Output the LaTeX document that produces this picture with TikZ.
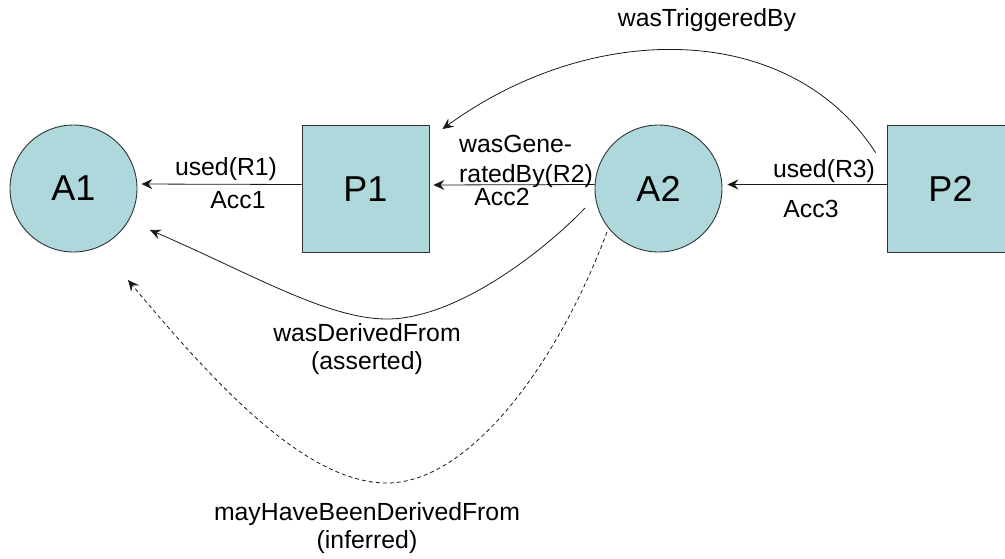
\documentclass[tikz,border=0pt]{standalone}
\usepackage{fontspec}
\setmainfont{Liberation Sans}
\usetikzlibrary{arrows.meta}
\definecolor{entityfill}{RGB}{174,216,220}
\definecolor{outline}{RGB}{50,50,50}
\tikzset{
  entity/.style={draw=outline, line width=0.9pt, fill=entityfill, minimum size=127pt,
    inner sep=0pt, font=\fontsize{36}{40}\selectfont},
  artifact/.style={entity, circle},
  process/.style={entity, rectangle},
  edge/.style={draw=black!90, line width=0.8pt, -{Stealth[length=11pt,width=10pt,inset=4pt]}},
  inferred/.style={edge, dash pattern=on 4pt off 3pt},
  lbl/.style={font=\fontsize{24.8}{28}\selectfont, inner sep=0pt},
}
\begin{document}
\begin{tikzpicture}[x=1pt, y=-1pt]
  \useasboundingbox (0,0) rectangle (1005,558);
  \clip (0,0) rectangle (1005,558);

  % artifacts and processes
  \node[artifact] (A1) at (73.5,188.5) {A1};
  \node[process]  (P1) at (365.5,189) {P1};
  \node[artifact] (A2) at (658.5,188.5) {A2};
  \node[process]  (P2) at (950.5,188.5) {P2};

  % free ends of the curved dependencies
  \coordinate (trigStart) at ([shift={(-11,28)}]P2.north west);
  \coordinate (trigEnd)   at ([shift={(13,4)}]P1.north east);
  \coordinate (derStart)  at ([shift={(-73.5,19.5)}]A2.center);
  \coordinate (derEnd)    at ([shift={(76.5,41.5)}]A1.center);
  \coordinate (infStart)  at ([shift={(-51.5,43.5)}]A2.center);
  \coordinate (infEnd)    at ([shift={(54.5,91.5)}]A1.center);

  % straight dependencies
  \draw[edge, shorten >=4pt] ([yshift=4.5pt]P1.west) -- ([yshift=4.5pt]A1.east);
  \draw[edge, shorten >=4pt] ([yshift=4pt]A2.west) -- ([yshift=4pt]P1.east);
  \draw[edge, shorten >=5pt] ([yshift=4pt]P2.west) -- ([yshift=4pt]A2.east);

  % curved dependencies
  \draw[edge] (trigStart) .. controls (790,20) and (592,20) .. (trigEnd);
  \draw[edge] (derStart) .. controls (545,250) and (457,319) .. (387,319)
                         .. controls (327,319) and (250,273) .. (derEnd);
  \draw[inferred] (infStart) .. controls (555,370) and (467,483) .. (387,483)
                             .. controls (307,483) and (218,388) .. (infEnd);

  % labels
  \node[lbl, anchor=base] (l1) at (226,175) {used(R1)};
  \node[lbl, anchor=base] (l1b) at (238,208) {Acc1};
  \node[lbl, anchor=west, align=left, font=\fontsize{24.8}{30}\selectfont] (l2) at (459,161) {wasGene-\\ratedBy(R2)};
  \node[lbl, anchor=base] (l2b) at (502,205) {Acc2};
  \node[lbl, anchor=base] (l3) at (824,177) {used(R3)};
  \node[lbl, anchor=base] (l3b) at (811,217) {Acc3};
  \node[lbl, anchor=base] (l4) at (707,26) {wasTriggeredBy};
  \node[lbl, align=center] (l5) at (367,349.5) {wasDerivedFrom\\(asserted)};
  \node[lbl, align=center] (l6) at (367,528.5) {mayHaveBeenDerivedFrom\\(inferred)};
\end{tikzpicture}
\end{document}
